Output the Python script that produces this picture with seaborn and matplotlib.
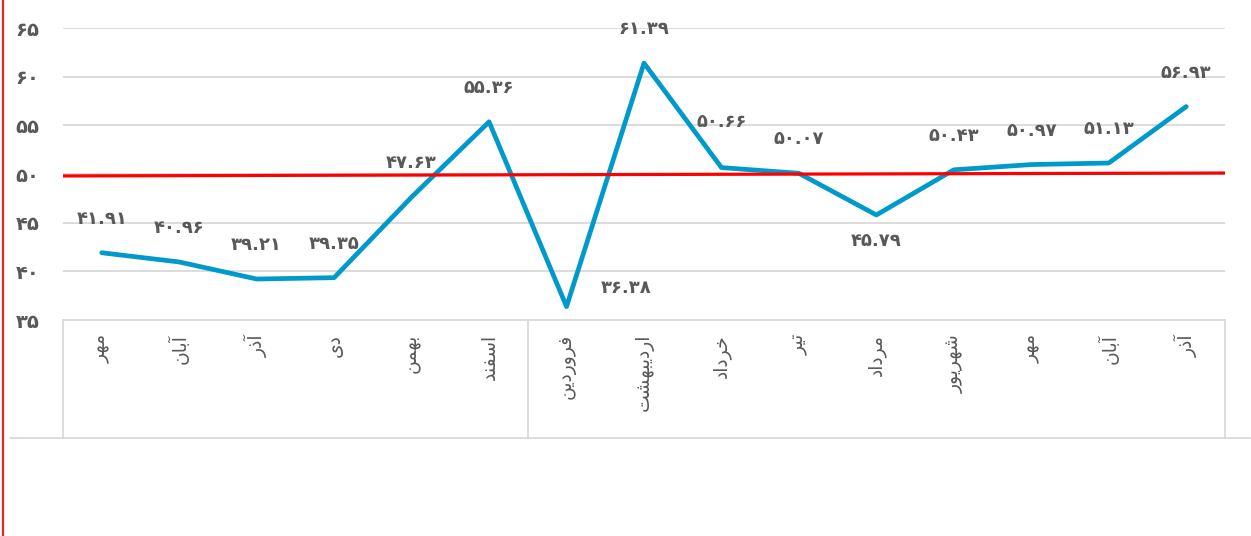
import unicodedata
import numpy as np
import pandas as pd
import seaborn as sns
import matplotlib.pyplot as plt
from matplotlib.lines import Line2D
from matplotlib.transforms import blended_transform_factory

# داده ها
months = ["مهر", "آبان", "آذر", "دی", "بهمن", "اسفند", "فروردین", "اردیبهشت",
          "خرداد", "تیر", "مرداد", "شهریور", "مهر", "آبان", "آذر"]
values = [41.91, 40.96, 39.21, 39.35, 47.63, 55.36, 36.38, 61.39,
          50.66, 50.07, 45.79, 50.43, 50.97, 51.13, 56.93]
ref_line = [49.8, 50.1]
y_ticks = [35, 40, 45, 50, 55, 60, 65]

# label offsets in pixels (dx, dy)
label_off = {6: (60, 19), 10: (0, -26), 8: (0, 46)}

GRAY = "#595959"
BLUE = "#0099CC"

# --- simple arabic shaping (matplotlib does not join letters) ---
RIGHT_ONLY = set("اآأإدذرزژوؤ")


def is_ar(c):
    return c is not None and "\u0600" <= c <= "\u06ff" and unicodedata.category(c).startswith("L")


def shape(word):
    out = []
    for i, c in enumerate(word):
        prev = word[i - 1] if i > 0 else None
        nxt = word[i + 1] if i < len(word) - 1 else None
        if not is_ar(c):
            out.append(c)
            continue
        lp = is_ar(prev) and prev not in RIGHT_ONLY
        ln = is_ar(nxt) and c not in RIGHT_ONLY
        form = {(True, True): "MEDIAL", (True, False): "FINAL",
                (False, True): "INITIAL", (False, False): "ISOLATED"}[(lp, ln)]
        try:
            out.append(unicodedata.lookup(unicodedata.name(c) + " " + form + " FORM"))
        except KeyError:
            out.append(c)
    return "".join(reversed(out))


fa_digits = str.maketrans("0123456789", "۰۱۲۳۴۵۶۷۸۹")


def fa(num):
    return num.translate(fa_digits)


sns.set_style("white")
plt.rcParams["font.family"] = ["DejaVu Sans"]

fig = plt.figure(figsize=(12.51, 5.36), dpi=100)
ax = fig.add_axes([63 / 1251, 216 / 536, (1225 - 63) / 1251, 292 / 536])

pos = np.arange(len(months))
df = pd.DataFrame({"pos": pos, "value": values})

ax.set_xlim(-0.5, len(months) - 0.5)
ax.set_ylim(35, 65)
for t in y_ticks[1:]:
    ax.axhline(t, color="#D9D9D9", lw=1.3, zorder=0)

sns.lineplot(data=df, x="pos", y="value", color=BLUE, lw=3.4, ax=ax, zorder=3)
sns.lineplot(x=[-0.5, len(months) - 0.5], y=ref_line, color="#FF0000", lw=2.3, ax=ax, zorder=4)

for i, v in enumerate(values):
    dx, dy = label_off.get(i, (0, 34))
    ax.annotate(fa(f"{v:.2f}"), (i, v), xytext=(dx, dy), textcoords="offset pixels",
                ha="center", va="center", fontsize=13, fontweight="bold", color=GRAY)

ax.set_xticks(pos)
ax.set_xticklabels([shape(m) for m in months], rotation=90, fontsize=13.5, color=GRAY, va="top")
ax.set_yticks(y_ticks)
ax.set_yticklabels([fa(str(t)) for t in y_ticks], fontsize=14, fontweight="bold", color=GRAY)
ax.tick_params(axis="both", length=0)
ax.tick_params(axis="x", pad=10)
ax.tick_params(axis="y", pad=17)
ax.set_xlabel("")
ax.set_ylabel("")
for s in ["top", "right", "left"]:
    ax.spines[s].set_visible(False)
ax.spines["bottom"].set_color("#D9D9D9")
ax.spines["bottom"].set_linewidth(1.3)

# multi-level category box
tr = blended_transform_factory(ax.transData, fig.transFigure)
y_top, y_bot = 216 / 536, (536 - 438) / 536
for xv in [-0.5, 5.5, len(months) - 0.5]:
    fig.add_artist(Line2D([xv, xv], [y_top, y_bot], transform=tr, color="#D9D9D9", lw=1.3))
fig.add_artist(Line2D([10 / 1251, 1250 / 1251], [y_bot, y_bot], color="#D9D9D9", lw=1.3))

# red frame line at the left edge
fig.add_artist(Line2D([3 / 1251, 3 / 1251], [0, 1], color="#E0262E", lw=1.6))

fig.savefig("out.png", dpi=100)
